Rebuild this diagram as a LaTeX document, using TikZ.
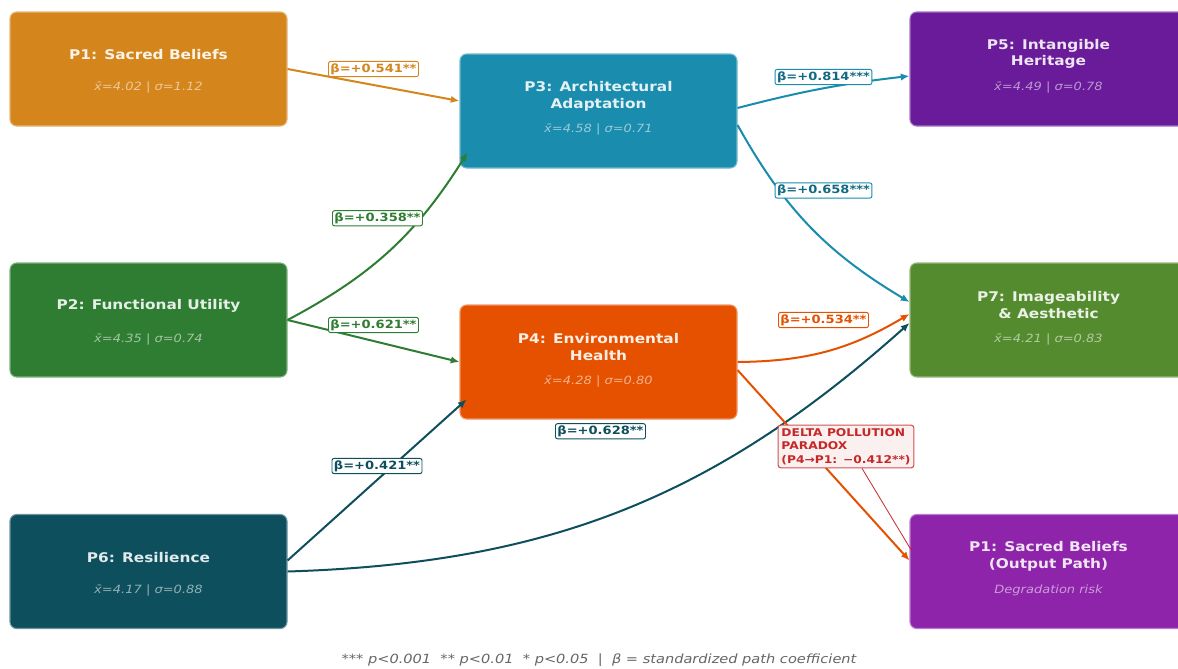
\documentclass[tikz,border=0pt]{standalone}
\usepackage{fontspec}
\setmainfont[FakeStretch=1.15]{DejaVu Sans}
\usetikzlibrary{arrows.meta, calc, positioning}

\definecolor{cSacred}{HTML}{D4861C}
\definecolor{cArch}{HTML}{1A8CAD}
\definecolor{cIntang}{HTML}{6A1B9A}
\definecolor{cFunc}{HTML}{2E7D32}
\definecolor{cEnv}{HTML}{E65100}
\definecolor{cImage}{HTML}{558B2F}
\definecolor{cResil}{HTML}{0D4F5C}
\definecolor{cOutput}{HTML}{8E24AA}
\definecolor{cRisk}{HTML}{C62828}

\begin{document}
\begin{tikzpicture}[x=0.75pt, y=-0.75pt, >={Latex[length=6.5pt,width=5.5pt]},
  factor/.style={rectangle, rounded corners=5pt, minimum width=207.75pt, minimum height=85.5pt, line width=0.8pt},
  fname/.style={font=\bfseries\fontsize{10}{12.5}\selectfont, align=center},
  fstat/.style={font=\itshape\fontsize{8.5}{10}\selectfont},
  beta/.style={rectangle, fill=white, rounded corners=1.5pt, line width=0.7pt, inner sep=1.5pt, font=\bfseries\fontsize{8.5}{10}\selectfont},
  link/.style={->, line width=1.5pt}]

\clip (0,0) rectangle (1178,668);
\fill[white] (0,0) rectangle (1178,668);

% factor boxes
\node[factor, fill=cSacred, draw=cSacred!60!white] (sacred) at (148.5,69) {};
\node[factor, fill=cFunc, draw=cFunc!60!white] (func) at (148.5,320) {};
\node[factor, fill=cResil, draw=cResil!60!white] (resil) at (148.5,571.5) {};
\node[factor, fill=cArch, draw=cArch!60!white] (arch) at (598.5,111) {};
\node[factor, fill=cEnv, draw=cEnv!60!white] (env) at (598.5,362) {};
\node[factor, fill=cIntang, draw=cIntang!60!white] (intang) at (1048.5,69) {};
\node[factor, fill=cImage, draw=cImage!60!white] (image) at (1048.5,320) {};
\node[factor, fill=cOutput, draw=cOutput!60!white] (output) at (1048.5,571.5) {};

\node[fname, text=white!90!cSacred] (sacred-n) at ([yshift=10.5pt]sacred.center) {P1: Sacred Beliefs};
\node[fstat, text=white!55!cSacred] (sacred-s) at ([yshift=-14.25pt]sacred.center) {x̄=4.02 | σ=1.12};
\node[fname, text=white!88!cFunc] (func-n) at ([yshift=10.5pt]func.center) {P2: Functional Utility};
\node[fstat, text=white!55!cFunc] (func-s) at ([yshift=-14.25pt]func.center) {x̄=4.35 | σ=0.74};
\node[fname, text=white!88!cResil] (resil-n) at ([yshift=10.5pt]resil.center) {P6: Resilience};
\node[fstat, text=white!55!cResil] (resil-s) at ([yshift=-14.25pt]resil.center) {x̄=4.17 | σ=0.88};
\node[fname, text=white!88!cArch] (arch-n) at ([yshift=11.25pt]arch.center) {P3: Architectural\\Adaptation};
\node[fstat, text=white!55!cArch] (arch-s) at ([yshift=-14.25pt]arch.center) {x̄=4.58 | σ=0.71};
\node[fname, text=white!90!cEnv] (env-n) at ([yshift=11.25pt]env.center) {P4: Environmental\\Health};
\node[fstat, text=white!55!cEnv] (env-s) at ([yshift=-14.25pt]env.center) {x̄=4.28 | σ=0.80};
\node[fname, text=white!88!cIntang] (intang-n) at ([yshift=11.25pt]intang.center) {P5: Intangible\\Heritage};
\node[fstat, text=white!55!cIntang] (intang-s) at ([yshift=-14.25pt]intang.center) {x̄=4.49 | σ=0.78};
\node[fname, text=white!88!cImage] (image-n) at ([yshift=11.25pt]image.center) {P7: Imageability\\\& Aesthetic};
\node[fstat, text=white!55!cImage] (image-s) at ([yshift=-14.25pt]image.center) {x̄=4.21 | σ=0.83};
\node[fname, text=white!88!cOutput] (output-n) at ([yshift=11.25pt]output.center) {P1: Sacred Beliefs\\(Output Path)};
\node[fstat, text=white!55!cOutput] (output-s) at ([yshift=-14.25pt]output.center) {Degradation risk};

% paths
\draw[link, cSacred] (sacred.east) -- ($(arch.west)+(0,-10)$) coordinate (e13);
\draw[link, cFunc] (func.east) to[bend right=15] ($(arch.south west)+(8,-16)$) coordinate (e23);
\draw[link, cFunc] (func.east) -- (env.west) coordinate (e24);
\draw[link, cResil] ($(resil.east)+(0,-11)$) coordinate (s64) -- ($(env.south west)+(7,-20)$) coordinate (e64);
\draw[link, cResil] (resil.east) to[bend right=20] ($(image.west)+(0,3)$) coordinate (e67);
\draw[link, cArch] ($(arch.east)+(0,-3)$) coordinate (s35) to[bend left=4] ($(intang.west)+(0,7)$) coordinate (e35);
\draw[link, cArch] ($(arch.east)+(0,14)$) coordinate (s37) to[bend right=15] ($(image.west)+(0,-18)$) coordinate (e37);
\draw[link, cEnv] (env.east) to[bend right=15] ($(image.west)+(0,-6)$) coordinate (e47);
\draw[link, cEnv] ($(env.east)+(0,8)$) coordinate (s41) -- ($(output.west)+(0,-11)$) coordinate (e41);

% coefficients
\node[beta, draw=cSacred, text=cSacred] (b13) at ($(sacred.east)!0.5!(e13)+(0,-16)$) {β=+0.541**};
\node[beta, draw=cFunc, text=cFunc] (b23) at ($(func.east)!0.5!(e23)+(0,-18)$) {β=+0.358**};
\node[beta, draw=cFunc, text=cFunc] (b24) at ($(func.east)!0.5!(e24)+(0,-16)$) {β=+0.621**};
\node[beta, draw=cResil, text=cResil] (b64) at ($(s64)!0.5!(e64)+(0,-14)$) {β=+0.421**};
\node[beta, draw=cResil, text=cResil] (b67) at ($(resil.east)!0.5!(e67)+(2,-16)$) {β=+0.628**};
\node[beta, draw=cArch, text=cArch!75!black] (b35) at ($(s35)!0.5!(e35)+(0,-15)$) {β=+0.814***};
\node[beta, draw=cArch, text=cArch!75!black] (b37) at ($(s37)!0.5!(e37)+(0,-23)$) {β=+0.658***};
\node[beta, draw=cEnv, text=cEnv] (b47) at ($(env.east)!0.5!(e47)+(0,-18)$) {β=+0.534**};

% pollution paradox note
\coordinate (risk-end) at ($(output.west)+(2,-21)$);
\node[rectangle, fill=cRisk!7!white, draw=cRisk!80!white, text=cRisk, rounded corners=2pt, line width=0.8pt, inner sep=2.5pt, align=left, font=\bfseries\fontsize{8}{10}\selectfont] (paradox) at (846,446.5) {DELTA POLLUTION\\PARADOX\\(P4→P1: −0.412**)};
\draw[cRisk, line width=0.6pt] ($(paradox.south)+(16,0)$) -- (risk-end);

\node[font=\itshape\fontsize{9.5}{11}\selectfont, text=black!60] (note) at (599,660) {*** p<0.001\ \ ** p<0.01\ \ * p<0.05\ \ |\ \ β = standardized path coefficient};

\end{tikzpicture}
\end{document}
